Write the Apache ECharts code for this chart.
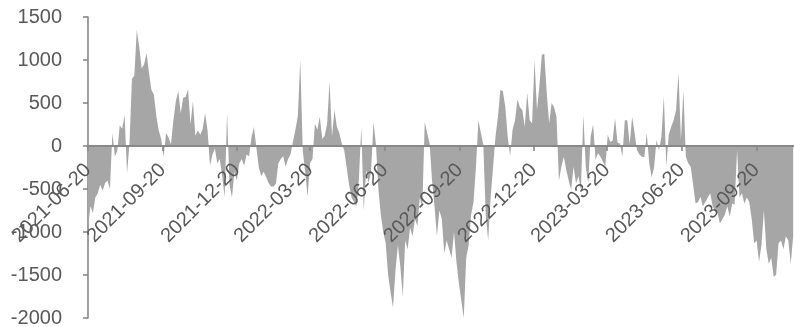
<!DOCTYPE html>
<html>
<head>
<meta charset="utf-8">
<script src="https://cdn.jsdelivr.net/npm/echarts@6/dist/echarts.min.js"></script>
<style>
html,body{margin:0;padding:0;background:#fff;}
#chart{width:794px;height:327px;}
</style>
</head>
<body>
<div id="chart"></div>
<script>
// Series sampled every 3 days starting at startDate
const startDate = [2021, 5, 20];
const stepDays = 3;
const endOffsetDays = 868;
const values = [
-950,-700,-780,-600,-550,-450,-520,-430,-400,-500,
150,-120,-60,240,200,360,-320,30,780,820,
1350,1150,900,950,1080,850,650,600,350,180,
80,-130,150,100,20,300,520,640,380,560,
570,660,250,520,120,180,130,200,380,180,
-230,-100,-30,-200,-150,-350,-600,380,-450,-600,
-300,-400,-200,-150,-230,-100,-120,100,220,-20,
-250,-350,-300,-360,-430,-470,-470,-440,-200,-150,
-120,-240,-150,-100,50,190,350,1000,-50,-300,
-590,-200,-150,260,190,340,80,120,260,750,
110,420,220,150,30,-50,-250,-450,-600,-650,
-700,-400,220,-750,-280,-430,-300,280,20,-500,
-800,-1000,-1130,-1500,-1700,-1880,-1450,-1150,-1400,-1750,
-1100,-1200,-950,-1050,-850,-930,-600,-720,280,150,
30,-400,-700,-1050,-750,-850,-1250,-1100,-1200,-1300,
-1000,-1350,-1600,-1800,-2000,-1300,-1150,-800,-650,-240,
300,150,20,-800,-1100,-600,-250,110,340,650,
640,460,110,-120,190,300,540,450,420,225,
615,300,265,1000,420,700,1060,1070,615,265,
500,450,340,-400,-240,-125,-280,-400,-510,-240,
-435,-350,-510,360,-240,-435,110,250,-160,-85,
-125,-180,-240,130,50,60,320,40,30,-125,
300,300,20,340,150,-50,-100,-125,-130,150,
-200,-360,-250,70,-50,110,575,-240,130,225,
300,420,850,70,650,-125,-200,-240,-450,-670,
-650,-590,-700,-650,-600,-550,-700,-750,-780,-900,
-850,-800,-700,-820,-670,-680,-50,-600,-550,-670,
-600,-650,-850,-1130,-1100,-1350,-1150,-750,-1200,-1370,
-1300,-1520,-1500,-1130,-1100,-1200,-1050,-1100,-1370,-1050
];
const tickLabels = [
'2021-06-20','2021-09-20','2021-12-20','2022-03-20','2022-06-20',
'2022-09-20','2022-12-20','2023-03-20','2023-06-20','2023-09-20'
];
const yMin = -2000, yMax = 1500, yStep = 500;

const W = 794, H = 327;
const gridTop = 17, gridBottom = 9, gridLeft = 88;
const gridH = H - gridTop - gridBottom;
// place the date axis at the y=0 level of the value scale
const zeroOffset = -gridH * (0 - yMin) / (yMax - yMin);

const DAY = 86400000;
const t0 = Date.UTC(startDate[0], startDate[1], startDate[2]);
function offsetOf(s){
  const p = s.split('-').map(Number);
  return Math.round((Date.UTC(p[0], p[1]-1, p[2]) - t0) / DAY);
}
const pad = n => (n<10?'0':'')+n;
function labelOf(off){
  const d = new Date(t0 + Math.round(off) * DAY);
  return d.getUTCFullYear()+'-'+pad(d.getUTCMonth()+1)+'-'+pad(d.getUTCDate());
}
const seriesData = values.map((v,i)=>[i*stepDays, v]);
const tickOffsets = tickLabels.map(offsetOf);

const chart = echarts.init(document.getElementById('chart'), null, {renderer:'canvas'});
chart.setOption({
  animation:false,
  backgroundColor:'#ffffff',
  grid:{left:gridLeft,right:0,top:gridTop,bottom:gridBottom,containLabel:false,outerBoundsMode:'none'},
  xAxis:{
    type:'value',
    min:0,
    max:endOffsetDays,
    position:'bottom',
    offset:zeroOffset,
    z:10,
    axisLine:{onZero:false,lineStyle:{color:'#888888',width:2}},
    axisTick:{show:true,length:5,customValues:tickOffsets,lineStyle:{color:'#888888',width:1.6}},
    splitLine:{show:false},
    axisLabel:{
      customValues:tickOffsets,
      rotate:45,
      margin:21,
      hideOverlap:false,
      color:'#595959',
      fontSize:20,
      fontFamily:'Arial, "Liberation Sans", sans-serif',
      formatter:function(val){ return labelOf(val); }
    }
  },
  yAxis:{
    type:'value',
    min:yMin,max:yMax,interval:yStep,
    axisLine:{show:true,onZero:false,lineStyle:{color:'#888888',width:1.6}},
    axisTick:{show:true,length:5,lineStyle:{color:'#888888',width:1.6}},
    splitLine:{show:false},
    axisLabel:{
      color:'#595959',
      fontSize:20,
      margin:26,
      fontFamily:'Arial, "Liberation Sans", sans-serif',
      formatter:function(v){ return String(v); }
    }
  },
  series:[{
    type:'line',
    data:seriesData,
    showSymbol:false,
    symbol:'none',
    lineStyle:{width:0,color:'#a6a6a6'},
    areaStyle:{color:'#a6a6a6',opacity:1,origin:0},
    z:2
  }]
});
</script>
</body>
</html>
